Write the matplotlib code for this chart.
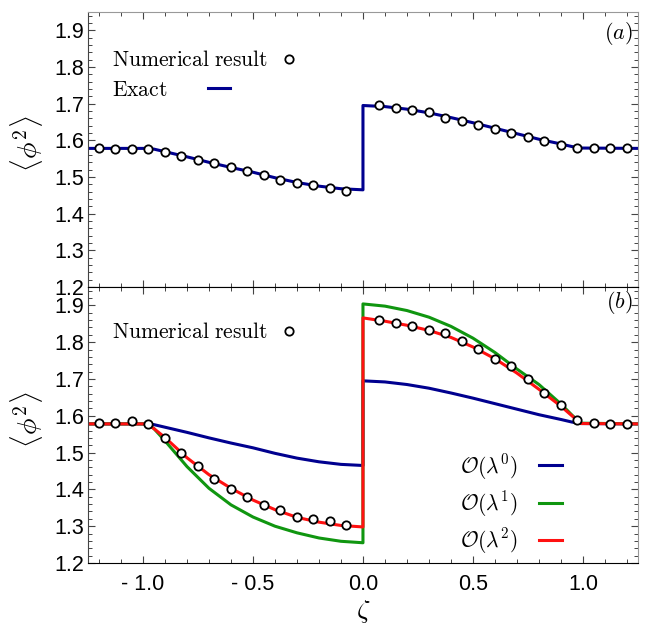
import matplotlib.pyplot as plt
from matplotlib.ticker import MultipleLocator

# 刻度用无衬线字体, 公式和图例用 Computer Modern
plt.rcParams['font.family'] = ['Liberation Sans', 'DejaVu Sans']
plt.rcParams['mathtext.fontset'] = 'cm'

# 数值结果的采样点
zeta_num = [-1.2, -1.125, -1.05, -0.975, -0.9, -0.825, -0.75, -0.675,
            -0.6, -0.525, -0.45, -0.375, -0.3, -0.225, -0.15, -0.075,
            0.075, 0.15, 0.225, 0.3, 0.375, 0.45, 0.525, 0.6,
            0.675, 0.75, 0.825, 0.9, 0.975, 1.05, 1.125, 1.2]
num_a = [1.578, 1.576, 1.577, 1.577, 1.569, 1.558, 1.547, 1.537,
         1.526, 1.517, 1.506, 1.493, 1.484, 1.477, 1.470, 1.461,
         1.696, 1.688, 1.683, 1.676, 1.662, 1.653, 1.641, 1.631,
         1.621, 1.610, 1.597, 1.587, 1.578, 1.578, 1.578, 1.580]
num_b = [1.581, 1.580, 1.585, 1.578, 1.541, 1.499, 1.464, 1.427,
         1.402, 1.378, 1.358, 1.343, 1.325, 1.319, 1.313, 1.304,
         1.859, 1.851, 1.845, 1.834, 1.826, 1.804, 1.782, 1.755,
         1.734, 1.700, 1.661, 1.628, 1.589, 1.581, 1.577, 1.578]

# 解析曲线 (zeta=0 处有跳变, 所以 0.0 出现两次)
zeta_curve = [-1.25, -0.98, -0.95, -0.9, -0.8, -0.7, -0.6, -0.5, -0.4, -0.3, -0.2, -0.1, 0.0,
              0.0, 0.1, 0.2, 0.3, 0.4, 0.5, 0.6, 0.7, 0.8, 0.9, 0.95, 0.99, 1.25]
order0 = [1.578, 1.578, 1.576, 1.569, 1.555, 1.540, 1.526, 1.513, 1.498, 1.485, 1.475, 1.468, 1.465,
          1.695, 1.692, 1.685, 1.675, 1.662, 1.648, 1.633, 1.618, 1.603, 1.590, 1.583, 1.579, 1.578]
order1 = [1.578, 1.578, 1.565, 1.532, 1.462, 1.403, 1.358, 1.325, 1.300, 1.282, 1.268, 1.259, 1.255,
          1.904, 1.898, 1.886, 1.868, 1.843, 1.811, 1.772, 1.727, 1.685, 1.632, 1.602, 1.580, 1.578]
order2 = [1.578, 1.578, 1.565, 1.541, 1.486, 1.440, 1.403, 1.371, 1.345, 1.324, 1.311, 1.302, 1.298,
          1.866, 1.857, 1.846, 1.832, 1.813, 1.787, 1.755, 1.716, 1.672, 1.626, 1.600, 1.579, 1.578]

xtick_vals = [-1.0, -0.5, 0.0, 0.5, 1.0]
xtick_labels = ['- 1.0', '- 0.5', '0.0', '0.5', '1.0']
ytick_vals = [1.2, 1.3, 1.4, 1.5, 1.6, 1.7, 1.8, 1.9]
ytick_labels = ['1.2', '1.3', '1.4', '1.5', '1.6', '1.7', '1.8', '1.9']

BLUE = '#00008f'
GREEN = '#109610'
RED = '#ff1111'
FS_TICK = 15.5
FS_LEG = 15.5

fig = plt.figure(figsize=(6.47, 6.28), dpi=100)
ax_a = fig.add_axes([0.136, 0.543, 0.850, 0.4379])
ax_b = fig.add_axes([0.136, 0.1035, 0.850, 0.4395])


def style_axis(ax, show_x):
    ax.set_xlim(-1.25, 1.25)
    ax.set_ylim(1.2, 1.95)
    ax.set_xticks(xtick_vals)
    ax.set_yticks(ytick_vals)
    ax.set_yticklabels(ytick_labels)
    if show_x:
        ax.set_xticklabels(xtick_labels)
    ax.xaxis.set_minor_locator(MultipleLocator(0.1))
    ax.yaxis.set_minor_locator(MultipleLocator(0.02))
    ax.tick_params(which='both', direction='in', top=True, right=True,
                   color='#444444', labelsize=FS_TICK, labelbottom=show_x)
    ax.tick_params(which='major', length=5, width=0.8)
    ax.tick_params(which='minor', length=3, width=0.7)
    ax.tick_params(axis='x', pad=8)
    ax.tick_params(axis='y', pad=3)
    ax.spines['left'].set_color('#444444')
    ax.spines['right'].set_color('#999999')
    ax.spines['top'].set_color('#999999')
    ax.spines['bottom'].set_color('black')
    ax.set_ylabel(r'$\langle\phi^2\rangle$', fontsize=20)
    ax.yaxis.set_label_coords(-0.078, 0.52)


# (a) 数值结果与精确解
style_axis(ax_a, False)
h_exact, = ax_a.plot(zeta_curve, order0, color=BLUE, lw=2.2)
h_num_a, = ax_a.plot(zeta_num, num_a, 'o', ms=6.0, mfc='white', mec='black', mew=1.3)
ax_a.text(1.228, 1.892, r'$(a)$', ha='right', va='center', fontsize=16)

leg = ax_a.legend([h_num_a], [r'$\mathrm{Numerical\ result}$'], loc='center left',
                  bbox_to_anchor=(0.043, 0.822), frameon=False, markerfirst=False,
                  handlelength=1.0, handletextpad=0.5, borderpad=0, borderaxespad=0,
                  fontsize=FS_LEG, numpoints=1)
ax_a.add_artist(leg)
ax_a.legend([h_exact], [r'$\mathrm{Exact}$'], loc='center left',
            bbox_to_anchor=(0.043, 0.716), frameon=False, markerfirst=False,
            handlelength=1.0, handletextpad=1.9, borderpad=0, borderaxespad=0,
            fontsize=FS_LEG)

# (b) 微扰各阶结果
style_axis(ax_b, True)
ax_b.spines['top'].set_color('black')
h0, = ax_b.plot(zeta_curve, order0, color=BLUE, lw=2.2)
h1, = ax_b.plot(zeta_curve, order1, color=GREEN, lw=2.2)
h2, = ax_b.plot(zeta_curve, order2, color=RED, lw=2.2)
h_num_b, = ax_b.plot(zeta_num, num_b, 'o', ms=6.0, mfc='white', mec='black', mew=1.3)
ax_b.text(1.228, 1.908, r'$(b)$', ha='right', va='center', fontsize=16)
ax_b.set_xlabel(r'$\zeta$', fontsize=19, labelpad=2)

leg = ax_b.legend([h_num_b], [r'$\mathrm{Numerical\ result}$'], loc='center left',
                  bbox_to_anchor=(0.043, 0.835), frameon=False, markerfirst=False,
                  handlelength=1.0, handletextpad=0.5, borderpad=0, borderaxespad=0,
                  fontsize=FS_LEG, numpoints=1)
ax_b.add_artist(leg)
ax_b.legend([h0, h1, h2],
            [r'$\mathcal{O}(\lambda^0)$', r'$\mathcal{O}(\lambda^1)$', r'$\mathcal{O}(\lambda^2)$'],
            loc='center left', bbox_to_anchor=(0.676, 0.214), frameon=False, markerfirst=False,
            handlelength=1.05, handletextpad=1.0, labelspacing=0.35,
            borderpad=0, borderaxespad=0, fontsize=FS_LEG)

fig.savefig('out.png', dpi=100)
